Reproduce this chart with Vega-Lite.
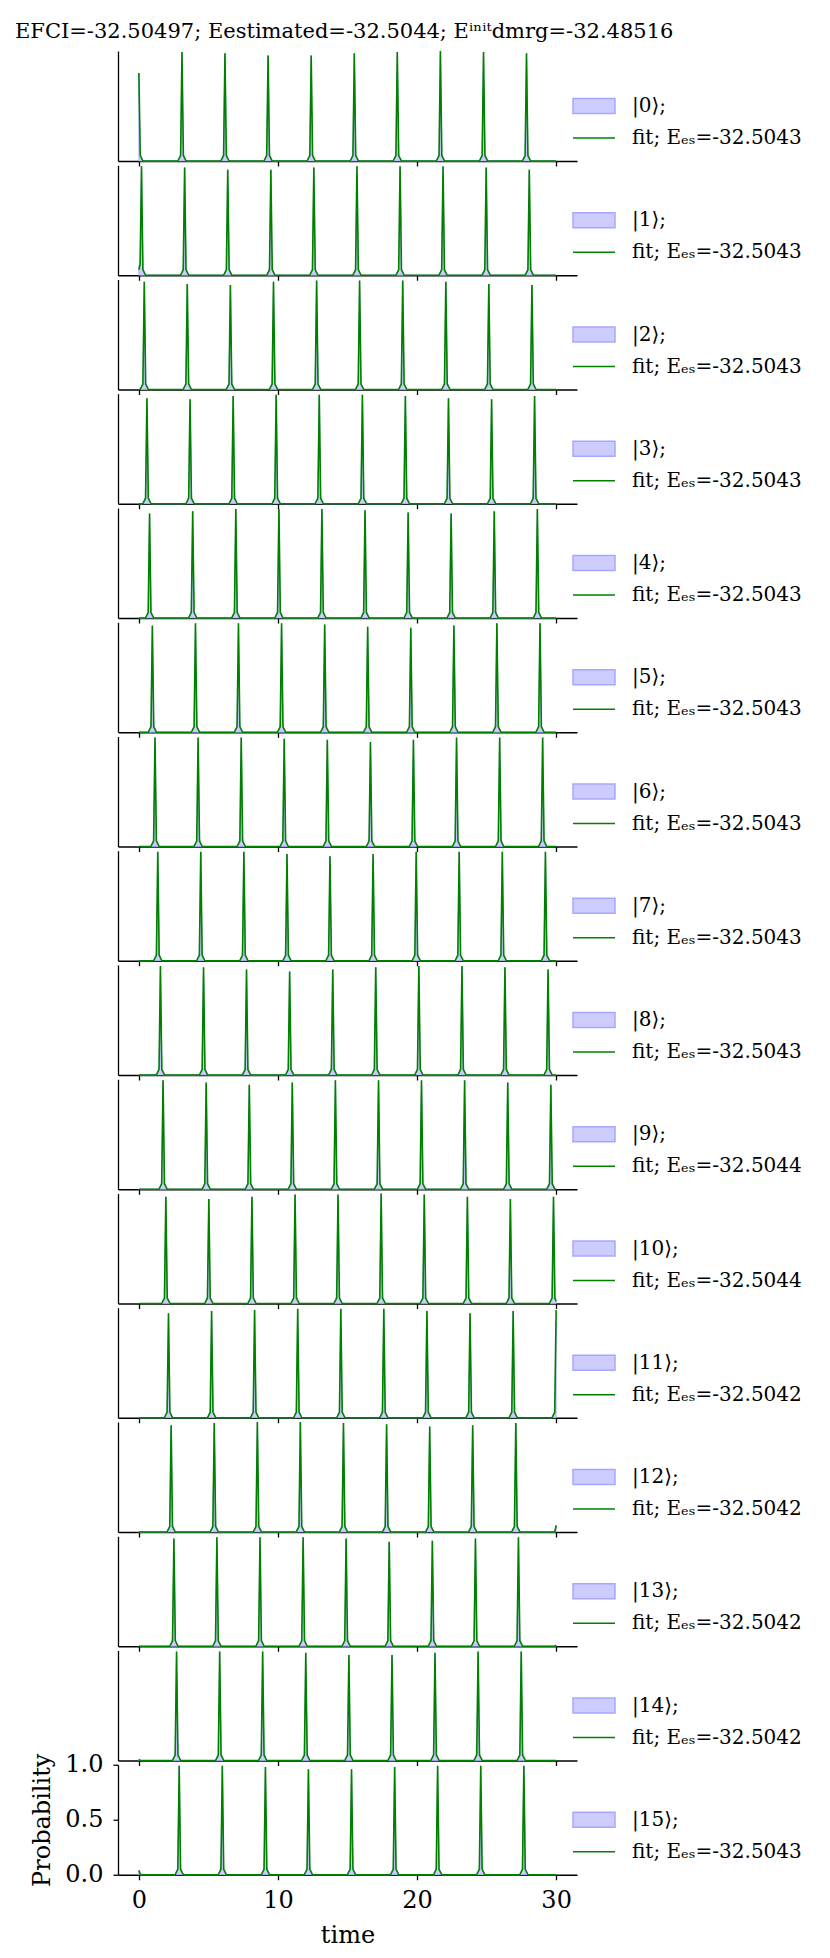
{"$schema":"https://vega.github.io/schema/vega-lite/v6.json","background":"white","padding":{"left":15,"top":20,"right":5,"bottom":5},
"title":{"text":"EFCI=-32.50497; Eestimated=-32.5044; Eⁱⁿⁱᵗdmrg=-32.48516","font":"DejaVu Serif","fontSize":21,"fontWeight":"normal","color":"#000000","anchor":"start","frame":"group","dx":-103,"offset":-11,"baseline":"alphabetic"},
"data":{"values":[
{"s":0,"t":0,"p":0.8,"f":0.8},{"s":0,"t":0.1,"p":0.06,"f":0.05},{"s":0,"t":0.3,"p":0,"f":0},
{"s":0,"t":2.8,"p":0,"f":0},{"s":0,"t":3.0,"p":0.06,"f":0.05},{"s":0,"t":3.1,"p":0.99,"f":0.99},{"s":0,"t":3.2,"p":0.06,"f":0.05},{"s":0,"t":3.4,"p":0,"f":0},
{"s":0,"t":5.89,"p":0,"f":0},{"s":0,"t":6.09,"p":0.06,"f":0.05},{"s":0,"t":6.19,"p":0.98,"f":0.98},{"s":0,"t":6.29,"p":0.06,"f":0.05},{"s":0,"t":6.49,"p":0,"f":0},
{"s":0,"t":8.99,"p":0,"f":0},{"s":0,"t":9.19,"p":0.06,"f":0.05},{"s":0,"t":9.29,"p":0.96,"f":0.96},{"s":0,"t":9.39,"p":0.06,"f":0.05},{"s":0,"t":9.59,"p":0,"f":0},
{"s":0,"t":12.09,"p":0,"f":0},{"s":0,"t":12.29,"p":0.06,"f":0.05},{"s":0,"t":12.39,"p":0.96,"f":0.96},{"s":0,"t":12.49,"p":0.06,"f":0.05},{"s":0,"t":12.69,"p":0,"f":0},
{"s":0,"t":15.19,"p":0,"f":0},{"s":0,"t":15.39,"p":0.06,"f":0.05},{"s":0,"t":15.49,"p":0.98,"f":0.98},{"s":0,"t":15.59,"p":0.06,"f":0.05},{"s":0,"t":15.79,"p":0,"f":0},
{"s":0,"t":18.28,"p":0,"f":0},{"s":0,"t":18.48,"p":0.06,"f":0.05},{"s":0,"t":18.58,"p":0.99,"f":0.99},{"s":0,"t":18.68,"p":0.06,"f":0.05},{"s":0,"t":18.88,"p":0,"f":0},
{"s":0,"t":21.38,"p":0,"f":0},{"s":0,"t":21.58,"p":0.06,"f":0.05},{"s":0,"t":21.68,"p":1.0,"f":1.0},{"s":0,"t":21.78,"p":0.06,"f":0.05},{"s":0,"t":21.98,"p":0,"f":0},
{"s":0,"t":24.48,"p":0,"f":0},{"s":0,"t":24.68,"p":0.06,"f":0.05},{"s":0,"t":24.78,"p":0.99,"f":0.99},{"s":0,"t":24.88,"p":0.06,"f":0.05},{"s":0,"t":25.08,"p":0,"f":0},
{"s":0,"t":27.57,"p":0,"f":0},{"s":0,"t":27.77,"p":0.06,"f":0.05},{"s":0,"t":27.87,"p":0.98,"f":0.98},{"s":0,"t":27.97,"p":0.06,"f":0.05},{"s":0,"t":28.17,"p":0,"f":0},
{"s":0,"t":30,"p":0,"f":0},
{"s":1,"t":0,"p":0.08,"f":0.05},{"s":1,"t":0.09,"p":0.12,"f":0.1},{"s":1,"t":0.19,"p":0.99,"f":0.99},{"s":1,"t":0.29,"p":0.06,"f":0.05},{"s":1,"t":0.49,"p":0,"f":0},
{"s":1,"t":2.99,"p":0,"f":0},{"s":1,"t":3.19,"p":0.06,"f":0.05},{"s":1,"t":3.29,"p":0.98,"f":0.98},{"s":1,"t":3.39,"p":0.06,"f":0.05},{"s":1,"t":3.59,"p":0,"f":0},
{"s":1,"t":6.09,"p":0,"f":0},{"s":1,"t":6.29,"p":0.06,"f":0.05},{"s":1,"t":6.39,"p":0.96,"f":0.96},{"s":1,"t":6.49,"p":0.06,"f":0.05},{"s":1,"t":6.69,"p":0,"f":0},
{"s":1,"t":9.19,"p":0,"f":0},{"s":1,"t":9.39,"p":0.06,"f":0.05},{"s":1,"t":9.49,"p":0.96,"f":0.96},{"s":1,"t":9.59,"p":0.06,"f":0.05},{"s":1,"t":9.79,"p":0,"f":0},
{"s":1,"t":12.28,"p":0,"f":0},{"s":1,"t":12.48,"p":0.06,"f":0.05},{"s":1,"t":12.58,"p":0.98,"f":0.98},{"s":1,"t":12.68,"p":0.06,"f":0.05},{"s":1,"t":12.88,"p":0,"f":0},
{"s":1,"t":15.38,"p":0,"f":0},{"s":1,"t":15.58,"p":0.06,"f":0.05},{"s":1,"t":15.68,"p":0.99,"f":0.99},{"s":1,"t":15.78,"p":0.06,"f":0.05},{"s":1,"t":15.98,"p":0,"f":0},
{"s":1,"t":18.48,"p":0,"f":0},{"s":1,"t":18.68,"p":0.06,"f":0.05},{"s":1,"t":18.78,"p":0.99,"f":0.99},{"s":1,"t":18.88,"p":0.06,"f":0.05},{"s":1,"t":19.08,"p":0,"f":0},
{"s":1,"t":21.57,"p":0,"f":0},{"s":1,"t":21.77,"p":0.06,"f":0.05},{"s":1,"t":21.87,"p":0.99,"f":0.99},{"s":1,"t":21.97,"p":0.06,"f":0.05},{"s":1,"t":22.17,"p":0,"f":0},
{"s":1,"t":24.67,"p":0,"f":0},{"s":1,"t":24.87,"p":0.06,"f":0.05},{"s":1,"t":24.97,"p":0.98,"f":0.98},{"s":1,"t":25.07,"p":0.06,"f":0.05},{"s":1,"t":25.27,"p":0,"f":0},
{"s":1,"t":27.77,"p":0,"f":0},{"s":1,"t":27.97,"p":0.06,"f":0.05},{"s":1,"t":28.07,"p":0.96,"f":0.96},{"s":1,"t":28.17,"p":0.06,"f":0.05},{"s":1,"t":28.37,"p":0,"f":0},
{"s":1,"t":30,"p":0,"f":0},
{"s":2,"t":0,"p":0,"f":0},
{"s":2,"t":0.09,"p":0,"f":0},{"s":2,"t":0.29,"p":0.06,"f":0.05},{"s":2,"t":0.39,"p":0.98,"f":0.98},{"s":2,"t":0.49,"p":0.06,"f":0.05},{"s":2,"t":0.69,"p":0,"f":0},
{"s":2,"t":3.18,"p":0,"f":0},{"s":2,"t":3.38,"p":0.06,"f":0.05},{"s":2,"t":3.48,"p":0.96,"f":0.96},{"s":2,"t":3.58,"p":0.06,"f":0.05},{"s":2,"t":3.78,"p":0,"f":0},
{"s":2,"t":6.28,"p":0,"f":0},{"s":2,"t":6.48,"p":0.06,"f":0.05},{"s":2,"t":6.58,"p":0.95,"f":0.95},{"s":2,"t":6.68,"p":0.06,"f":0.05},{"s":2,"t":6.88,"p":0,"f":0},
{"s":2,"t":9.38,"p":0,"f":0},{"s":2,"t":9.58,"p":0.06,"f":0.05},{"s":2,"t":9.68,"p":0.98,"f":0.98},{"s":2,"t":9.78,"p":0.06,"f":0.05},{"s":2,"t":9.98,"p":0,"f":0},
{"s":2,"t":12.48,"p":0,"f":0},{"s":2,"t":12.68,"p":0.06,"f":0.05},{"s":2,"t":12.78,"p":0.99,"f":0.99},{"s":2,"t":12.88,"p":0.06,"f":0.05},{"s":2,"t":13.08,"p":0,"f":0},
{"s":2,"t":15.57,"p":0,"f":0},{"s":2,"t":15.77,"p":0.06,"f":0.05},{"s":2,"t":15.87,"p":0.99,"f":0.99},{"s":2,"t":15.97,"p":0.06,"f":0.05},{"s":2,"t":16.17,"p":0,"f":0},
{"s":2,"t":18.67,"p":0,"f":0},{"s":2,"t":18.87,"p":0.06,"f":0.05},{"s":2,"t":18.97,"p":0.99,"f":0.99},{"s":2,"t":19.07,"p":0.06,"f":0.05},{"s":2,"t":19.27,"p":0,"f":0},
{"s":2,"t":21.77,"p":0,"f":0},{"s":2,"t":21.97,"p":0.06,"f":0.05},{"s":2,"t":22.07,"p":0.98,"f":0.98},{"s":2,"t":22.17,"p":0.06,"f":0.05},{"s":2,"t":22.37,"p":0,"f":0},
{"s":2,"t":24.86,"p":0,"f":0},{"s":2,"t":25.06,"p":0.06,"f":0.05},{"s":2,"t":25.16,"p":0.96,"f":0.96},{"s":2,"t":25.26,"p":0.06,"f":0.05},{"s":2,"t":25.46,"p":0,"f":0},
{"s":2,"t":27.96,"p":0,"f":0},{"s":2,"t":28.16,"p":0.06,"f":0.05},{"s":2,"t":28.26,"p":0.95,"f":0.95},{"s":2,"t":28.36,"p":0.06,"f":0.05},{"s":2,"t":28.56,"p":0,"f":0},
{"s":2,"t":30,"p":0,"f":0},
{"s":3,"t":0,"p":0,"f":0},
{"s":3,"t":0.28,"p":0,"f":0},{"s":3,"t":0.48,"p":0.06,"f":0.05},{"s":3,"t":0.58,"p":0.96,"f":0.96},{"s":3,"t":0.68,"p":0.06,"f":0.05},{"s":3,"t":0.88,"p":0,"f":0},
{"s":3,"t":3.38,"p":0,"f":0},{"s":3,"t":3.58,"p":0.06,"f":0.05},{"s":3,"t":3.68,"p":0.95,"f":0.95},{"s":3,"t":3.78,"p":0.06,"f":0.05},{"s":3,"t":3.98,"p":0,"f":0},
{"s":3,"t":6.48,"p":0,"f":0},{"s":3,"t":6.68,"p":0.06,"f":0.05},{"s":3,"t":6.78,"p":0.98,"f":0.98},{"s":3,"t":6.88,"p":0.06,"f":0.05},{"s":3,"t":7.08,"p":0,"f":0},
{"s":3,"t":9.57,"p":0,"f":0},{"s":3,"t":9.77,"p":0.06,"f":0.05},{"s":3,"t":9.87,"p":0.99,"f":0.99},{"s":3,"t":9.97,"p":0.06,"f":0.05},{"s":3,"t":10.17,"p":0,"f":0},
{"s":3,"t":12.67,"p":0,"f":0},{"s":3,"t":12.87,"p":0.06,"f":0.05},{"s":3,"t":12.97,"p":0.99,"f":0.99},{"s":3,"t":13.07,"p":0.06,"f":0.05},{"s":3,"t":13.27,"p":0,"f":0},
{"s":3,"t":15.77,"p":0,"f":0},{"s":3,"t":15.97,"p":0.06,"f":0.05},{"s":3,"t":16.07,"p":0.99,"f":0.99},{"s":3,"t":16.17,"p":0.06,"f":0.05},{"s":3,"t":16.37,"p":0,"f":0},
{"s":3,"t":18.86,"p":0,"f":0},{"s":3,"t":19.06,"p":0.06,"f":0.05},{"s":3,"t":19.16,"p":0.98,"f":0.98},{"s":3,"t":19.26,"p":0.06,"f":0.05},{"s":3,"t":19.46,"p":0,"f":0},
{"s":3,"t":21.96,"p":0,"f":0},{"s":3,"t":22.16,"p":0.06,"f":0.05},{"s":3,"t":22.26,"p":0.96,"f":0.96},{"s":3,"t":22.36,"p":0.06,"f":0.05},{"s":3,"t":22.56,"p":0,"f":0},
{"s":3,"t":25.06,"p":0,"f":0},{"s":3,"t":25.26,"p":0.06,"f":0.05},{"s":3,"t":25.36,"p":0.95,"f":0.95},{"s":3,"t":25.46,"p":0.06,"f":0.05},{"s":3,"t":25.66,"p":0,"f":0},
{"s":3,"t":28.15,"p":0,"f":0},{"s":3,"t":28.35,"p":0.06,"f":0.05},{"s":3,"t":28.45,"p":0.98,"f":0.98},{"s":3,"t":28.55,"p":0.06,"f":0.05},{"s":3,"t":28.75,"p":0,"f":0},
{"s":3,"t":30,"p":0,"f":0},
{"s":4,"t":0,"p":0,"f":0},
{"s":4,"t":0.47,"p":0,"f":0},{"s":4,"t":0.67,"p":0.06,"f":0.05},{"s":4,"t":0.77,"p":0.95,"f":0.95},{"s":4,"t":0.87,"p":0.06,"f":0.05},{"s":4,"t":1.07,"p":0,"f":0},
{"s":4,"t":3.57,"p":0,"f":0},{"s":4,"t":3.77,"p":0.06,"f":0.05},{"s":4,"t":3.87,"p":0.97,"f":0.97},{"s":4,"t":3.97,"p":0.06,"f":0.05},{"s":4,"t":4.17,"p":0,"f":0},
{"s":4,"t":6.67,"p":0,"f":0},{"s":4,"t":6.87,"p":0.06,"f":0.05},{"s":4,"t":6.97,"p":0.99,"f":0.99},{"s":4,"t":7.07,"p":0.06,"f":0.05},{"s":4,"t":7.27,"p":0,"f":0},
{"s":4,"t":9.77,"p":0,"f":0},{"s":4,"t":9.97,"p":0.06,"f":0.05},{"s":4,"t":10.07,"p":0.99,"f":0.99},{"s":4,"t":10.17,"p":0.06,"f":0.05},{"s":4,"t":10.37,"p":0,"f":0},
{"s":4,"t":12.86,"p":0,"f":0},{"s":4,"t":13.06,"p":0.06,"f":0.05},{"s":4,"t":13.16,"p":0.99,"f":0.99},{"s":4,"t":13.26,"p":0.06,"f":0.05},{"s":4,"t":13.46,"p":0,"f":0},
{"s":4,"t":15.96,"p":0,"f":0},{"s":4,"t":16.16,"p":0.06,"f":0.05},{"s":4,"t":16.26,"p":0.98,"f":0.98},{"s":4,"t":16.36,"p":0.06,"f":0.05},{"s":4,"t":16.56,"p":0,"f":0},
{"s":4,"t":19.06,"p":0,"f":0},{"s":4,"t":19.26,"p":0.06,"f":0.05},{"s":4,"t":19.36,"p":0.96,"f":0.96},{"s":4,"t":19.46,"p":0.06,"f":0.05},{"s":4,"t":19.66,"p":0,"f":0},
{"s":4,"t":22.15,"p":0,"f":0},{"s":4,"t":22.35,"p":0.06,"f":0.05},{"s":4,"t":22.45,"p":0.95,"f":0.95},{"s":4,"t":22.55,"p":0.06,"f":0.05},{"s":4,"t":22.75,"p":0,"f":0},
{"s":4,"t":25.25,"p":0,"f":0},{"s":4,"t":25.45,"p":0.06,"f":0.05},{"s":4,"t":25.55,"p":0.97,"f":0.97},{"s":4,"t":25.65,"p":0.06,"f":0.05},{"s":4,"t":25.85,"p":0,"f":0},
{"s":4,"t":28.35,"p":0,"f":0},{"s":4,"t":28.55,"p":0.06,"f":0.05},{"s":4,"t":28.65,"p":0.99,"f":0.99},{"s":4,"t":28.75,"p":0.06,"f":0.05},{"s":4,"t":28.95,"p":0,"f":0},
{"s":4,"t":30,"p":0,"f":0},
{"s":5,"t":0,"p":0,"f":0},
{"s":5,"t":0.67,"p":0,"f":0},{"s":5,"t":0.87,"p":0.06,"f":0.05},{"s":5,"t":0.97,"p":0.97,"f":0.97},{"s":5,"t":1.07,"p":0.06,"f":0.05},{"s":5,"t":1.27,"p":0,"f":0},
{"s":5,"t":3.77,"p":0,"f":0},{"s":5,"t":3.97,"p":0.06,"f":0.05},{"s":5,"t":4.07,"p":0.99,"f":0.99},{"s":5,"t":4.17,"p":0.06,"f":0.05},{"s":5,"t":4.37,"p":0,"f":0},
{"s":5,"t":6.86,"p":0,"f":0},{"s":5,"t":7.06,"p":0.06,"f":0.05},{"s":5,"t":7.16,"p":0.99,"f":0.99},{"s":5,"t":7.26,"p":0.06,"f":0.05},{"s":5,"t":7.46,"p":0,"f":0},
{"s":5,"t":9.96,"p":0,"f":0},{"s":5,"t":10.16,"p":0.06,"f":0.05},{"s":5,"t":10.26,"p":0.99,"f":0.99},{"s":5,"t":10.36,"p":0.06,"f":0.05},{"s":5,"t":10.56,"p":0,"f":0},
{"s":5,"t":13.06,"p":0,"f":0},{"s":5,"t":13.26,"p":0.06,"f":0.05},{"s":5,"t":13.36,"p":0.98,"f":0.98},{"s":5,"t":13.46,"p":0.06,"f":0.05},{"s":5,"t":13.66,"p":0,"f":0},
{"s":5,"t":16.15,"p":0,"f":0},{"s":5,"t":16.35,"p":0.06,"f":0.05},{"s":5,"t":16.45,"p":0.96,"f":0.96},{"s":5,"t":16.55,"p":0.06,"f":0.05},{"s":5,"t":16.75,"p":0,"f":0},
{"s":5,"t":19.25,"p":0,"f":0},{"s":5,"t":19.45,"p":0.06,"f":0.05},{"s":5,"t":19.55,"p":0.95,"f":0.95},{"s":5,"t":19.65,"p":0.06,"f":0.05},{"s":5,"t":19.85,"p":0,"f":0},
{"s":5,"t":22.35,"p":0,"f":0},{"s":5,"t":22.55,"p":0.06,"f":0.05},{"s":5,"t":22.65,"p":0.97,"f":0.97},{"s":5,"t":22.75,"p":0.06,"f":0.05},{"s":5,"t":22.95,"p":0,"f":0},
{"s":5,"t":25.44,"p":0,"f":0},{"s":5,"t":25.64,"p":0.06,"f":0.05},{"s":5,"t":25.74,"p":0.99,"f":0.99},{"s":5,"t":25.84,"p":0.06,"f":0.05},{"s":5,"t":26.04,"p":0,"f":0},
{"s":5,"t":28.54,"p":0,"f":0},{"s":5,"t":28.74,"p":0.06,"f":0.05},{"s":5,"t":28.84,"p":0.99,"f":0.99},{"s":5,"t":28.94,"p":0.06,"f":0.05},{"s":5,"t":29.14,"p":0,"f":0},
{"s":5,"t":30,"p":0,"f":0},
{"s":6,"t":0,"p":0,"f":0},
{"s":6,"t":0.86,"p":0,"f":0},{"s":6,"t":1.06,"p":0.06,"f":0.05},{"s":6,"t":1.16,"p":0.99,"f":0.99},{"s":6,"t":1.26,"p":0.06,"f":0.05},{"s":6,"t":1.46,"p":0,"f":0},
{"s":6,"t":3.96,"p":0,"f":0},{"s":6,"t":4.16,"p":0.06,"f":0.05},{"s":6,"t":4.26,"p":0.99,"f":0.99},{"s":6,"t":4.36,"p":0.06,"f":0.05},{"s":6,"t":4.56,"p":0,"f":0},
{"s":6,"t":7.06,"p":0,"f":0},{"s":6,"t":7.26,"p":0.06,"f":0.05},{"s":6,"t":7.36,"p":0.99,"f":0.99},{"s":6,"t":7.46,"p":0.06,"f":0.05},{"s":6,"t":7.66,"p":0,"f":0},
{"s":6,"t":10.15,"p":0,"f":0},{"s":6,"t":10.35,"p":0.06,"f":0.05},{"s":6,"t":10.45,"p":0.98,"f":0.98},{"s":6,"t":10.55,"p":0.06,"f":0.05},{"s":6,"t":10.75,"p":0,"f":0},
{"s":6,"t":13.25,"p":0,"f":0},{"s":6,"t":13.45,"p":0.06,"f":0.05},{"s":6,"t":13.55,"p":0.97,"f":0.97},{"s":6,"t":13.65,"p":0.06,"f":0.05},{"s":6,"t":13.85,"p":0,"f":0},
{"s":6,"t":16.35,"p":0,"f":0},{"s":6,"t":16.55,"p":0.06,"f":0.05},{"s":6,"t":16.65,"p":0.95,"f":0.95},{"s":6,"t":16.75,"p":0.06,"f":0.05},{"s":6,"t":16.95,"p":0,"f":0},
{"s":6,"t":19.44,"p":0,"f":0},{"s":6,"t":19.64,"p":0.06,"f":0.05},{"s":6,"t":19.74,"p":0.97,"f":0.97},{"s":6,"t":19.84,"p":0.06,"f":0.05},{"s":6,"t":20.04,"p":0,"f":0},
{"s":6,"t":22.54,"p":0,"f":0},{"s":6,"t":22.74,"p":0.06,"f":0.05},{"s":6,"t":22.84,"p":0.99,"f":0.99},{"s":6,"t":22.94,"p":0.06,"f":0.05},{"s":6,"t":23.14,"p":0,"f":0},
{"s":6,"t":25.64,"p":0,"f":0},{"s":6,"t":25.84,"p":0.06,"f":0.05},{"s":6,"t":25.94,"p":0.99,"f":0.99},{"s":6,"t":26.04,"p":0.06,"f":0.05},{"s":6,"t":26.24,"p":0,"f":0},
{"s":6,"t":28.73,"p":0,"f":0},{"s":6,"t":28.93,"p":0.06,"f":0.05},{"s":6,"t":29.03,"p":0.99,"f":0.99},{"s":6,"t":29.13,"p":0.06,"f":0.05},{"s":6,"t":29.33,"p":0,"f":0},
{"s":6,"t":30,"p":0,"f":0},
{"s":7,"t":0,"p":0,"f":0},
{"s":7,"t":1.06,"p":0,"f":0},{"s":7,"t":1.26,"p":0.06,"f":0.05},{"s":7,"t":1.36,"p":0.99,"f":0.99},{"s":7,"t":1.46,"p":0.06,"f":0.05},{"s":7,"t":1.66,"p":0,"f":0},
{"s":7,"t":4.15,"p":0,"f":0},{"s":7,"t":4.35,"p":0.06,"f":0.05},{"s":7,"t":4.45,"p":0.99,"f":0.99},{"s":7,"t":4.55,"p":0.06,"f":0.05},{"s":7,"t":4.75,"p":0,"f":0},
{"s":7,"t":7.25,"p":0,"f":0},{"s":7,"t":7.45,"p":0.06,"f":0.05},{"s":7,"t":7.55,"p":0.99,"f":0.99},{"s":7,"t":7.65,"p":0.06,"f":0.05},{"s":7,"t":7.85,"p":0,"f":0},
{"s":7,"t":10.35,"p":0,"f":0},{"s":7,"t":10.55,"p":0.06,"f":0.05},{"s":7,"t":10.65,"p":0.97,"f":0.97},{"s":7,"t":10.75,"p":0.06,"f":0.05},{"s":7,"t":10.95,"p":0,"f":0},
{"s":7,"t":13.44,"p":0,"f":0},{"s":7,"t":13.64,"p":0.06,"f":0.05},{"s":7,"t":13.74,"p":0.95,"f":0.95},{"s":7,"t":13.84,"p":0.06,"f":0.05},{"s":7,"t":14.04,"p":0,"f":0},
{"s":7,"t":16.54,"p":0,"f":0},{"s":7,"t":16.74,"p":0.06,"f":0.05},{"s":7,"t":16.84,"p":0.97,"f":0.97},{"s":7,"t":16.94,"p":0.06,"f":0.05},{"s":7,"t":17.14,"p":0,"f":0},
{"s":7,"t":19.64,"p":0,"f":0},{"s":7,"t":19.84,"p":0.06,"f":0.05},{"s":7,"t":19.94,"p":0.99,"f":0.99},{"s":7,"t":20.04,"p":0.06,"f":0.05},{"s":7,"t":20.24,"p":0,"f":0},
{"s":7,"t":22.73,"p":0,"f":0},{"s":7,"t":22.93,"p":0.06,"f":0.05},{"s":7,"t":23.03,"p":0.99,"f":0.99},{"s":7,"t":23.13,"p":0.06,"f":0.05},{"s":7,"t":23.33,"p":0,"f":0},
{"s":7,"t":25.83,"p":0,"f":0},{"s":7,"t":26.03,"p":0.06,"f":0.05},{"s":7,"t":26.13,"p":0.99,"f":0.99},{"s":7,"t":26.23,"p":0.06,"f":0.05},{"s":7,"t":26.43,"p":0,"f":0},
{"s":7,"t":28.93,"p":0,"f":0},{"s":7,"t":29.13,"p":0.06,"f":0.05},{"s":7,"t":29.23,"p":0.99,"f":0.99},{"s":7,"t":29.33,"p":0.06,"f":0.05},{"s":7,"t":29.53,"p":0,"f":0},
{"s":7,"t":30,"p":0,"f":0},
{"s":8,"t":0,"p":0,"f":0},
{"s":8,"t":1.25,"p":0,"f":0},{"s":8,"t":1.45,"p":0.06,"f":0.05},{"s":8,"t":1.55,"p":0.99,"f":0.99},{"s":8,"t":1.65,"p":0.06,"f":0.05},{"s":8,"t":1.85,"p":0,"f":0},
{"s":8,"t":4.35,"p":0,"f":0},{"s":8,"t":4.55,"p":0.06,"f":0.05},{"s":8,"t":4.65,"p":0.98,"f":0.98},{"s":8,"t":4.75,"p":0.06,"f":0.05},{"s":8,"t":4.95,"p":0,"f":0},
{"s":8,"t":7.44,"p":0,"f":0},{"s":8,"t":7.64,"p":0.06,"f":0.05},{"s":8,"t":7.74,"p":0.96,"f":0.96},{"s":8,"t":7.84,"p":0.06,"f":0.05},{"s":8,"t":8.04,"p":0,"f":0},
{"s":8,"t":10.54,"p":0,"f":0},{"s":8,"t":10.74,"p":0.06,"f":0.05},{"s":8,"t":10.84,"p":0.94,"f":0.94},{"s":8,"t":10.94,"p":0.06,"f":0.05},{"s":8,"t":11.14,"p":0,"f":0},
{"s":8,"t":13.64,"p":0,"f":0},{"s":8,"t":13.84,"p":0.06,"f":0.05},{"s":8,"t":13.94,"p":0.96,"f":0.96},{"s":8,"t":14.04,"p":0.06,"f":0.05},{"s":8,"t":14.24,"p":0,"f":0},
{"s":8,"t":16.73,"p":0,"f":0},{"s":8,"t":16.93,"p":0.06,"f":0.05},{"s":8,"t":17.03,"p":0.98,"f":0.98},{"s":8,"t":17.13,"p":0.06,"f":0.05},{"s":8,"t":17.33,"p":0,"f":0},
{"s":8,"t":19.83,"p":0,"f":0},{"s":8,"t":20.03,"p":0.06,"f":0.05},{"s":8,"t":20.13,"p":0.99,"f":0.99},{"s":8,"t":20.23,"p":0.06,"f":0.05},{"s":8,"t":20.43,"p":0,"f":0},
{"s":8,"t":22.93,"p":0,"f":0},{"s":8,"t":23.13,"p":0.06,"f":0.05},{"s":8,"t":23.23,"p":0.99,"f":0.99},{"s":8,"t":23.33,"p":0.06,"f":0.05},{"s":8,"t":23.53,"p":0,"f":0},
{"s":8,"t":26.02,"p":0,"f":0},{"s":8,"t":26.22,"p":0.06,"f":0.05},{"s":8,"t":26.32,"p":0.98,"f":0.98},{"s":8,"t":26.42,"p":0.06,"f":0.05},{"s":8,"t":26.62,"p":0,"f":0},
{"s":8,"t":29.12,"p":0,"f":0},{"s":8,"t":29.32,"p":0.06,"f":0.05},{"s":8,"t":29.42,"p":0.96,"f":0.96},{"s":8,"t":29.52,"p":0.06,"f":0.05},{"s":8,"t":29.72,"p":0,"f":0},
{"s":8,"t":30,"p":0,"f":0},
{"s":9,"t":0,"p":0,"f":0},
{"s":9,"t":1.44,"p":0,"f":0},{"s":9,"t":1.64,"p":0.06,"f":0.05},{"s":9,"t":1.74,"p":0.99,"f":0.99},{"s":9,"t":1.84,"p":0.06,"f":0.05},{"s":9,"t":2.04,"p":0,"f":0},
{"s":9,"t":4.54,"p":0,"f":0},{"s":9,"t":4.74,"p":0.06,"f":0.05},{"s":9,"t":4.84,"p":0.97,"f":0.97},{"s":9,"t":4.94,"p":0.06,"f":0.05},{"s":9,"t":5.14,"p":0,"f":0},
{"s":9,"t":7.64,"p":0,"f":0},{"s":9,"t":7.84,"p":0.06,"f":0.05},{"s":9,"t":7.94,"p":0.95,"f":0.95},{"s":9,"t":8.04,"p":0.06,"f":0.05},{"s":9,"t":8.24,"p":0,"f":0},
{"s":9,"t":10.73,"p":0,"f":0},{"s":9,"t":10.93,"p":0.06,"f":0.05},{"s":9,"t":11.03,"p":0.97,"f":0.97},{"s":9,"t":11.13,"p":0.06,"f":0.05},{"s":9,"t":11.33,"p":0,"f":0},
{"s":9,"t":13.83,"p":0,"f":0},{"s":9,"t":14.03,"p":0.06,"f":0.05},{"s":9,"t":14.13,"p":0.99,"f":0.99},{"s":9,"t":14.23,"p":0.06,"f":0.05},{"s":9,"t":14.43,"p":0,"f":0},
{"s":9,"t":16.93,"p":0,"f":0},{"s":9,"t":17.13,"p":0.06,"f":0.05},{"s":9,"t":17.23,"p":0.99,"f":0.99},{"s":9,"t":17.33,"p":0.06,"f":0.05},{"s":9,"t":17.53,"p":0,"f":0},
{"s":9,"t":20.02,"p":0,"f":0},{"s":9,"t":20.22,"p":0.06,"f":0.05},{"s":9,"t":20.32,"p":0.99,"f":0.99},{"s":9,"t":20.42,"p":0.06,"f":0.05},{"s":9,"t":20.62,"p":0,"f":0},
{"s":9,"t":23.12,"p":0,"f":0},{"s":9,"t":23.32,"p":0.06,"f":0.05},{"s":9,"t":23.42,"p":0.99,"f":0.99},{"s":9,"t":23.52,"p":0.06,"f":0.05},{"s":9,"t":23.72,"p":0,"f":0},
{"s":9,"t":26.22,"p":0,"f":0},{"s":9,"t":26.42,"p":0.06,"f":0.05},{"s":9,"t":26.52,"p":0.97,"f":0.97},{"s":9,"t":26.62,"p":0.06,"f":0.05},{"s":9,"t":26.82,"p":0,"f":0},
{"s":9,"t":29.32,"p":0,"f":0},{"s":9,"t":29.52,"p":0.06,"f":0.05},{"s":9,"t":29.62,"p":0.95,"f":0.95},{"s":9,"t":29.72,"p":0.06,"f":0.05},{"s":9,"t":29.92,"p":0,"f":0},
{"s":9,"t":30,"p":0,"f":0},
{"s":10,"t":0,"p":0,"f":0},
{"s":10,"t":1.64,"p":0,"f":0},{"s":10,"t":1.84,"p":0.06,"f":0.05},{"s":10,"t":1.94,"p":0.97,"f":0.97},{"s":10,"t":2.04,"p":0.06,"f":0.05},{"s":10,"t":2.24,"p":0,"f":0},
{"s":10,"t":4.73,"p":0,"f":0},{"s":10,"t":4.93,"p":0.06,"f":0.05},{"s":10,"t":5.03,"p":0.95,"f":0.95},{"s":10,"t":5.13,"p":0.06,"f":0.05},{"s":10,"t":5.33,"p":0,"f":0},
{"s":10,"t":7.83,"p":0,"f":0},{"s":10,"t":8.03,"p":0.06,"f":0.05},{"s":10,"t":8.13,"p":0.97,"f":0.97},{"s":10,"t":8.23,"p":0.06,"f":0.05},{"s":10,"t":8.43,"p":0,"f":0},
{"s":10,"t":10.93,"p":0,"f":0},{"s":10,"t":11.13,"p":0.06,"f":0.05},{"s":10,"t":11.23,"p":0.99,"f":0.99},{"s":10,"t":11.33,"p":0.06,"f":0.05},{"s":10,"t":11.53,"p":0,"f":0},
{"s":10,"t":14.02,"p":0,"f":0},{"s":10,"t":14.22,"p":0.06,"f":0.05},{"s":10,"t":14.32,"p":0.99,"f":0.99},{"s":10,"t":14.42,"p":0.06,"f":0.05},{"s":10,"t":14.62,"p":0,"f":0},
{"s":10,"t":17.12,"p":0,"f":0},{"s":10,"t":17.32,"p":0.06,"f":0.05},{"s":10,"t":17.42,"p":1.0,"f":1.0},{"s":10,"t":17.52,"p":0.06,"f":0.05},{"s":10,"t":17.72,"p":0,"f":0},
{"s":10,"t":20.22,"p":0,"f":0},{"s":10,"t":20.42,"p":0.06,"f":0.05},{"s":10,"t":20.52,"p":0.99,"f":0.99},{"s":10,"t":20.62,"p":0.06,"f":0.05},{"s":10,"t":20.82,"p":0,"f":0},
{"s":10,"t":23.32,"p":0,"f":0},{"s":10,"t":23.52,"p":0.06,"f":0.05},{"s":10,"t":23.62,"p":0.97,"f":0.97},{"s":10,"t":23.72,"p":0.06,"f":0.05},{"s":10,"t":23.92,"p":0,"f":0},
{"s":10,"t":26.41,"p":0,"f":0},{"s":10,"t":26.61,"p":0.06,"f":0.05},{"s":10,"t":26.71,"p":0.95,"f":0.95},{"s":10,"t":26.81,"p":0.06,"f":0.05},{"s":10,"t":27.01,"p":0,"f":0},
{"s":10,"t":29.51,"p":0,"f":0},{"s":10,"t":29.71,"p":0.06,"f":0.05},{"s":10,"t":29.81,"p":0.97,"f":0.97},{"s":10,"t":29.91,"p":0.06,"f":0.05},{"s":10,"t":30,"p":0.02,"f":0.02},
{"s":11,"t":0,"p":0,"f":0},
{"s":11,"t":1.83,"p":0,"f":0},{"s":11,"t":2.03,"p":0.06,"f":0.05},{"s":11,"t":2.13,"p":0.95,"f":0.95},{"s":11,"t":2.23,"p":0.06,"f":0.05},{"s":11,"t":2.43,"p":0,"f":0},
{"s":11,"t":4.93,"p":0,"f":0},{"s":11,"t":5.13,"p":0.06,"f":0.05},{"s":11,"t":5.23,"p":0.97,"f":0.97},{"s":11,"t":5.33,"p":0.06,"f":0.05},{"s":11,"t":5.53,"p":0,"f":0},
{"s":11,"t":8.02,"p":0,"f":0},{"s":11,"t":8.22,"p":0.06,"f":0.05},{"s":11,"t":8.32,"p":0.98,"f":0.98},{"s":11,"t":8.42,"p":0.06,"f":0.05},{"s":11,"t":8.62,"p":0,"f":0},
{"s":11,"t":11.12,"p":0,"f":0},{"s":11,"t":11.32,"p":0.06,"f":0.05},{"s":11,"t":11.42,"p":0.99,"f":0.99},{"s":11,"t":11.52,"p":0.06,"f":0.05},{"s":11,"t":11.72,"p":0,"f":0},
{"s":11,"t":14.22,"p":0,"f":0},{"s":11,"t":14.42,"p":0.06,"f":0.05},{"s":11,"t":14.52,"p":0.99,"f":0.99},{"s":11,"t":14.62,"p":0.06,"f":0.05},{"s":11,"t":14.82,"p":0,"f":0},
{"s":11,"t":17.31,"p":0,"f":0},{"s":11,"t":17.51,"p":0.06,"f":0.05},{"s":11,"t":17.61,"p":0.99,"f":0.99},{"s":11,"t":17.71,"p":0.06,"f":0.05},{"s":11,"t":17.91,"p":0,"f":0},
{"s":11,"t":20.41,"p":0,"f":0},{"s":11,"t":20.61,"p":0.06,"f":0.05},{"s":11,"t":20.71,"p":0.97,"f":0.97},{"s":11,"t":20.81,"p":0.06,"f":0.05},{"s":11,"t":21.01,"p":0,"f":0},
{"s":11,"t":23.51,"p":0,"f":0},{"s":11,"t":23.71,"p":0.06,"f":0.05},{"s":11,"t":23.81,"p":0.95,"f":0.95},{"s":11,"t":23.91,"p":0.06,"f":0.05},{"s":11,"t":24.11,"p":0,"f":0},
{"s":11,"t":26.61,"p":0,"f":0},{"s":11,"t":26.81,"p":0.06,"f":0.05},{"s":11,"t":26.91,"p":0.97,"f":0.97},{"s":11,"t":27.01,"p":0.06,"f":0.05},{"s":11,"t":27.21,"p":0,"f":0},
{"s":11,"t":29.7,"p":0,"f":0},{"s":11,"t":29.9,"p":0.06,"f":0.05},{"s":11,"t":30,"p":0.87,"f":0.98},
{"s":12,"t":0,"p":0,"f":0},
{"s":12,"t":2.02,"p":0,"f":0},{"s":12,"t":2.22,"p":0.06,"f":0.05},{"s":12,"t":2.32,"p":0.97,"f":0.97},{"s":12,"t":2.42,"p":0.06,"f":0.05},{"s":12,"t":2.62,"p":0,"f":0},
{"s":12,"t":5.12,"p":0,"f":0},{"s":12,"t":5.32,"p":0.06,"f":0.05},{"s":12,"t":5.42,"p":0.99,"f":0.99},{"s":12,"t":5.52,"p":0.06,"f":0.05},{"s":12,"t":5.72,"p":0,"f":0},
{"s":12,"t":8.22,"p":0,"f":0},{"s":12,"t":8.42,"p":0.06,"f":0.05},{"s":12,"t":8.52,"p":1.0,"f":1.0},{"s":12,"t":8.62,"p":0.06,"f":0.05},{"s":12,"t":8.82,"p":0,"f":0},
{"s":12,"t":11.31,"p":0,"f":0},{"s":12,"t":11.51,"p":0.06,"f":0.05},{"s":12,"t":11.61,"p":1.0,"f":1.0},{"s":12,"t":11.71,"p":0.06,"f":0.05},{"s":12,"t":11.91,"p":0,"f":0},
{"s":12,"t":14.41,"p":0,"f":0},{"s":12,"t":14.61,"p":0.06,"f":0.05},{"s":12,"t":14.71,"p":0.99,"f":0.99},{"s":12,"t":14.81,"p":0.06,"f":0.05},{"s":12,"t":15.01,"p":0,"f":0},
{"s":12,"t":17.51,"p":0,"f":0},{"s":12,"t":17.71,"p":0.06,"f":0.05},{"s":12,"t":17.81,"p":0.98,"f":0.98},{"s":12,"t":17.91,"p":0.06,"f":0.05},{"s":12,"t":18.11,"p":0,"f":0},
{"s":12,"t":20.61,"p":0,"f":0},{"s":12,"t":20.81,"p":0.06,"f":0.05},{"s":12,"t":20.91,"p":0.96,"f":0.96},{"s":12,"t":21.01,"p":0.06,"f":0.05},{"s":12,"t":21.21,"p":0,"f":0},
{"s":12,"t":23.7,"p":0,"f":0},{"s":12,"t":23.9,"p":0.06,"f":0.05},{"s":12,"t":24.0,"p":0.97,"f":0.97},{"s":12,"t":24.1,"p":0.06,"f":0.05},{"s":12,"t":24.3,"p":0,"f":0},
{"s":12,"t":26.8,"p":0,"f":0},{"s":12,"t":27.0,"p":0.06,"f":0.05},{"s":12,"t":27.1,"p":0.99,"f":0.99},{"s":12,"t":27.2,"p":0.06,"f":0.05},{"s":12,"t":27.4,"p":0,"f":0},
{"s":12,"t":29.9,"p":0,"f":0},{"s":12,"t":30,"p":0.06,"f":0.06},
{"s":13,"t":0,"p":0,"f":0},
{"s":13,"t":2.22,"p":0,"f":0},{"s":13,"t":2.42,"p":0.06,"f":0.05},{"s":13,"t":2.52,"p":0.98,"f":0.98},{"s":13,"t":2.62,"p":0.06,"f":0.05},{"s":13,"t":2.82,"p":0,"f":0},
{"s":13,"t":5.31,"p":0,"f":0},{"s":13,"t":5.51,"p":0.06,"f":0.05},{"s":13,"t":5.61,"p":0.99,"f":0.99},{"s":13,"t":5.71,"p":0.06,"f":0.05},{"s":13,"t":5.91,"p":0,"f":0},
{"s":13,"t":8.41,"p":0,"f":0},{"s":13,"t":8.61,"p":0.06,"f":0.05},{"s":13,"t":8.71,"p":0.99,"f":0.99},{"s":13,"t":8.81,"p":0.06,"f":0.05},{"s":13,"t":9.01,"p":0,"f":0},
{"s":13,"t":11.51,"p":0,"f":0},{"s":13,"t":11.71,"p":0.06,"f":0.05},{"s":13,"t":11.81,"p":0.99,"f":0.99},{"s":13,"t":11.91,"p":0.06,"f":0.05},{"s":13,"t":12.11,"p":0,"f":0},
{"s":13,"t":14.6,"p":0,"f":0},{"s":13,"t":14.8,"p":0.06,"f":0.05},{"s":13,"t":14.9,"p":0.98,"f":0.98},{"s":13,"t":15.0,"p":0.06,"f":0.05},{"s":13,"t":15.2,"p":0,"f":0},
{"s":13,"t":17.7,"p":0,"f":0},{"s":13,"t":17.9,"p":0.06,"f":0.05},{"s":13,"t":18.0,"p":0.95,"f":0.95},{"s":13,"t":18.1,"p":0.06,"f":0.05},{"s":13,"t":18.3,"p":0,"f":0},
{"s":13,"t":20.8,"p":0,"f":0},{"s":13,"t":21.0,"p":0.06,"f":0.05},{"s":13,"t":21.1,"p":0.96,"f":0.96},{"s":13,"t":21.2,"p":0.06,"f":0.05},{"s":13,"t":21.4,"p":0,"f":0},
{"s":13,"t":23.9,"p":0,"f":0},{"s":13,"t":24.1,"p":0.06,"f":0.05},{"s":13,"t":24.2,"p":0.98,"f":0.98},{"s":13,"t":24.3,"p":0.06,"f":0.05},{"s":13,"t":24.5,"p":0,"f":0},
{"s":13,"t":26.99,"p":0,"f":0},{"s":13,"t":27.19,"p":0.06,"f":0.05},{"s":13,"t":27.29,"p":0.99,"f":0.99},{"s":13,"t":27.39,"p":0.06,"f":0.05},{"s":13,"t":27.59,"p":0,"f":0},
{"s":13,"t":29.9,"p":0,"f":0},{"s":13,"t":30,"p":0.01,"f":0.01},
{"s":14,"t":0,"p":0.01,"f":0.01},{"s":14,"t":0.1,"p":0,"f":0},
{"s":14,"t":2.41,"p":0,"f":0},{"s":14,"t":2.61,"p":0.06,"f":0.05},{"s":14,"t":2.71,"p":0.99,"f":0.99},{"s":14,"t":2.81,"p":0.06,"f":0.05},{"s":14,"t":3.01,"p":0,"f":0},
{"s":14,"t":5.51,"p":0,"f":0},{"s":14,"t":5.71,"p":0.06,"f":0.05},{"s":14,"t":5.81,"p":0.99,"f":0.99},{"s":14,"t":5.91,"p":0.06,"f":0.05},{"s":14,"t":6.11,"p":0,"f":0},
{"s":14,"t":8.6,"p":0,"f":0},{"s":14,"t":8.8,"p":0.06,"f":0.05},{"s":14,"t":8.9,"p":0.99,"f":0.99},{"s":14,"t":9.0,"p":0.06,"f":0.05},{"s":14,"t":9.2,"p":0,"f":0},
{"s":14,"t":11.7,"p":0,"f":0},{"s":14,"t":11.9,"p":0.06,"f":0.05},{"s":14,"t":12.0,"p":0.98,"f":0.98},{"s":14,"t":12.1,"p":0.06,"f":0.05},{"s":14,"t":12.3,"p":0,"f":0},
{"s":14,"t":14.8,"p":0,"f":0},{"s":14,"t":15.0,"p":0.06,"f":0.05},{"s":14,"t":15.1,"p":0.96,"f":0.96},{"s":14,"t":15.2,"p":0.06,"f":0.05},{"s":14,"t":15.4,"p":0,"f":0},
{"s":14,"t":17.9,"p":0,"f":0},{"s":14,"t":18.1,"p":0.06,"f":0.05},{"s":14,"t":18.2,"p":0.96,"f":0.96},{"s":14,"t":18.3,"p":0.06,"f":0.05},{"s":14,"t":18.5,"p":0,"f":0},
{"s":14,"t":20.99,"p":0,"f":0},{"s":14,"t":21.19,"p":0.06,"f":0.05},{"s":14,"t":21.29,"p":0.98,"f":0.98},{"s":14,"t":21.39,"p":0.06,"f":0.05},{"s":14,"t":21.59,"p":0,"f":0},
{"s":14,"t":24.09,"p":0,"f":0},{"s":14,"t":24.29,"p":0.06,"f":0.05},{"s":14,"t":24.39,"p":0.99,"f":0.99},{"s":14,"t":24.49,"p":0.06,"f":0.05},{"s":14,"t":24.69,"p":0,"f":0},
{"s":14,"t":27.19,"p":0,"f":0},{"s":14,"t":27.39,"p":0.06,"f":0.05},{"s":14,"t":27.49,"p":0.99,"f":0.99},{"s":14,"t":27.59,"p":0.06,"f":0.05},{"s":14,"t":27.79,"p":0,"f":0},
{"s":14,"t":30,"p":0,"f":0},
{"s":15,"t":0,"p":0.04,"f":0.04},{"s":15,"t":0.12,"p":0,"f":0},
{"s":15,"t":2.6,"p":0,"f":0},{"s":15,"t":2.8,"p":0.06,"f":0.05},{"s":15,"t":2.9,"p":0.99,"f":0.99},{"s":15,"t":3.0,"p":0.06,"f":0.05},{"s":15,"t":3.2,"p":0,"f":0},
{"s":15,"t":5.7,"p":0,"f":0},{"s":15,"t":5.9,"p":0.06,"f":0.05},{"s":15,"t":6.0,"p":0.99,"f":0.99},{"s":15,"t":6.1,"p":0.06,"f":0.05},{"s":15,"t":6.3,"p":0,"f":0},
{"s":15,"t":8.8,"p":0,"f":0},{"s":15,"t":9.0,"p":0.06,"f":0.05},{"s":15,"t":9.1,"p":0.98,"f":0.98},{"s":15,"t":9.2,"p":0.06,"f":0.05},{"s":15,"t":9.4,"p":0,"f":0},
{"s":15,"t":11.89,"p":0,"f":0},{"s":15,"t":12.09,"p":0.06,"f":0.05},{"s":15,"t":12.19,"p":0.96,"f":0.96},{"s":15,"t":12.29,"p":0.06,"f":0.05},{"s":15,"t":12.49,"p":0,"f":0},
{"s":15,"t":14.99,"p":0,"f":0},{"s":15,"t":15.19,"p":0.06,"f":0.05},{"s":15,"t":15.29,"p":0.96,"f":0.96},{"s":15,"t":15.39,"p":0.06,"f":0.05},{"s":15,"t":15.59,"p":0,"f":0},
{"s":15,"t":18.09,"p":0,"f":0},{"s":15,"t":18.29,"p":0.06,"f":0.05},{"s":15,"t":18.39,"p":0.98,"f":0.98},{"s":15,"t":18.49,"p":0.06,"f":0.05},{"s":15,"t":18.69,"p":0,"f":0},
{"s":15,"t":21.18,"p":0,"f":0},{"s":15,"t":21.38,"p":0.06,"f":0.05},{"s":15,"t":21.48,"p":0.99,"f":0.99},{"s":15,"t":21.58,"p":0.06,"f":0.05},{"s":15,"t":21.78,"p":0,"f":0},
{"s":15,"t":24.28,"p":0,"f":0},{"s":15,"t":24.48,"p":0.06,"f":0.05},{"s":15,"t":24.58,"p":0.99,"f":0.99},{"s":15,"t":24.68,"p":0.06,"f":0.05},{"s":15,"t":24.88,"p":0,"f":0},
{"s":15,"t":27.38,"p":0,"f":0},{"s":15,"t":27.58,"p":0.06,"f":0.05},{"s":15,"t":27.68,"p":0.99,"f":0.99},{"s":15,"t":27.78,"p":0.06,"f":0.05},{"s":15,"t":27.98,"p":0,"f":0},
{"s":15,"t":30,"p":0,"f":0}
]},
"spacing":4.25,"bounds":"flush",
"resolve":{"scale":{"x":"independent","y":"independent","fill":"independent","stroke":"independent"},"legend":{"fill":"independent","stroke":"independent"}},
"vconcat":[
{"width":459,"height":110,"transform":[{"filter":"datum.s==0"}],"encoding":{"x":{"field":"t","type":"quantitative","scale":{"domain":[-1.5,31.5],"nice":false,"zero":false},"axis":{"values":[0,10,20,30],"labels":false,"title":null}}},"layer":[{"mark":{"type":"area","stroke":"#a6a6ff","strokeWidth":0.8},"encoding":{"y":{"field":"p","type":"quantitative","scale":{"domain":[0,1],"nice":false},"axis":{"ticks":false,"labels":false,"title":null}},"fill":{"datum":"|0⟩;","type":"nominal","scale":{"range":["#ccccff"]},"legend":{"title":null,"legendX":454,"legendY":33,"symbolType":"M-1,-0.36H1V0.36H-1Z","symbolStrokeColor":"#a6a6ff"}}}},{"mark":{"type":"line","strokeWidth":1.6},"encoding":{"y":{"field":"f","type":"quantitative","scale":{"domain":[0,1],"nice":false},"axis":{"ticks":false,"labels":false,"title":null}},"stroke":{"datum":"fit; Eₑₛ=-32.5043","type":"nominal","scale":{"range":["#008000"]},"legend":{"title":null,"legendX":454,"legendY":65,"symbolType":"stroke"}}}}]},
{"width":459,"height":110,"transform":[{"filter":"datum.s==1"}],"encoding":{"x":{"field":"t","type":"quantitative","scale":{"domain":[-1.5,31.5],"nice":false,"zero":false},"axis":{"values":[0,10,20,30],"labels":false,"title":null}}},"layer":[{"mark":{"type":"area","stroke":"#a6a6ff","strokeWidth":0.8},"encoding":{"y":{"field":"p","type":"quantitative","scale":{"domain":[0,1],"nice":false},"axis":{"ticks":false,"labels":false,"title":null}},"fill":{"datum":"|1⟩;","type":"nominal","scale":{"range":["#ccccff"]},"legend":{"title":null,"legendX":454,"legendY":33,"symbolType":"M-1,-0.36H1V0.36H-1Z","symbolStrokeColor":"#a6a6ff"}}}},{"mark":{"type":"line","strokeWidth":1.6},"encoding":{"y":{"field":"f","type":"quantitative","scale":{"domain":[0,1],"nice":false},"axis":{"ticks":false,"labels":false,"title":null}},"stroke":{"datum":"fit; Eₑₛ=-32.5043","type":"nominal","scale":{"range":["#008000"]},"legend":{"title":null,"legendX":454,"legendY":65,"symbolType":"stroke"}}}}]},
{"width":459,"height":110,"transform":[{"filter":"datum.s==2"}],"encoding":{"x":{"field":"t","type":"quantitative","scale":{"domain":[-1.5,31.5],"nice":false,"zero":false},"axis":{"values":[0,10,20,30],"labels":false,"title":null}}},"layer":[{"mark":{"type":"area","stroke":"#a6a6ff","strokeWidth":0.8},"encoding":{"y":{"field":"p","type":"quantitative","scale":{"domain":[0,1],"nice":false},"axis":{"ticks":false,"labels":false,"title":null}},"fill":{"datum":"|2⟩;","type":"nominal","scale":{"range":["#ccccff"]},"legend":{"title":null,"legendX":454,"legendY":33,"symbolType":"M-1,-0.36H1V0.36H-1Z","symbolStrokeColor":"#a6a6ff"}}}},{"mark":{"type":"line","strokeWidth":1.6},"encoding":{"y":{"field":"f","type":"quantitative","scale":{"domain":[0,1],"nice":false},"axis":{"ticks":false,"labels":false,"title":null}},"stroke":{"datum":"fit; Eₑₛ=-32.5043","type":"nominal","scale":{"range":["#008000"]},"legend":{"title":null,"legendX":454,"legendY":65,"symbolType":"stroke"}}}}]},
{"width":459,"height":110,"transform":[{"filter":"datum.s==3"}],"encoding":{"x":{"field":"t","type":"quantitative","scale":{"domain":[-1.5,31.5],"nice":false,"zero":false},"axis":{"values":[0,10,20,30],"labels":false,"title":null}}},"layer":[{"mark":{"type":"area","stroke":"#a6a6ff","strokeWidth":0.8},"encoding":{"y":{"field":"p","type":"quantitative","scale":{"domain":[0,1],"nice":false},"axis":{"ticks":false,"labels":false,"title":null}},"fill":{"datum":"|3⟩;","type":"nominal","scale":{"range":["#ccccff"]},"legend":{"title":null,"legendX":454,"legendY":33,"symbolType":"M-1,-0.36H1V0.36H-1Z","symbolStrokeColor":"#a6a6ff"}}}},{"mark":{"type":"line","strokeWidth":1.6},"encoding":{"y":{"field":"f","type":"quantitative","scale":{"domain":[0,1],"nice":false},"axis":{"ticks":false,"labels":false,"title":null}},"stroke":{"datum":"fit; Eₑₛ=-32.5043","type":"nominal","scale":{"range":["#008000"]},"legend":{"title":null,"legendX":454,"legendY":65,"symbolType":"stroke"}}}}]},
{"width":459,"height":110,"transform":[{"filter":"datum.s==4"}],"encoding":{"x":{"field":"t","type":"quantitative","scale":{"domain":[-1.5,31.5],"nice":false,"zero":false},"axis":{"values":[0,10,20,30],"labels":false,"title":null}}},"layer":[{"mark":{"type":"area","stroke":"#a6a6ff","strokeWidth":0.8},"encoding":{"y":{"field":"p","type":"quantitative","scale":{"domain":[0,1],"nice":false},"axis":{"ticks":false,"labels":false,"title":null}},"fill":{"datum":"|4⟩;","type":"nominal","scale":{"range":["#ccccff"]},"legend":{"title":null,"legendX":454,"legendY":33,"symbolType":"M-1,-0.36H1V0.36H-1Z","symbolStrokeColor":"#a6a6ff"}}}},{"mark":{"type":"line","strokeWidth":1.6},"encoding":{"y":{"field":"f","type":"quantitative","scale":{"domain":[0,1],"nice":false},"axis":{"ticks":false,"labels":false,"title":null}},"stroke":{"datum":"fit; Eₑₛ=-32.5043","type":"nominal","scale":{"range":["#008000"]},"legend":{"title":null,"legendX":454,"legendY":65,"symbolType":"stroke"}}}}]},
{"width":459,"height":110,"transform":[{"filter":"datum.s==5"}],"encoding":{"x":{"field":"t","type":"quantitative","scale":{"domain":[-1.5,31.5],"nice":false,"zero":false},"axis":{"values":[0,10,20,30],"labels":false,"title":null}}},"layer":[{"mark":{"type":"area","stroke":"#a6a6ff","strokeWidth":0.8},"encoding":{"y":{"field":"p","type":"quantitative","scale":{"domain":[0,1],"nice":false},"axis":{"ticks":false,"labels":false,"title":null}},"fill":{"datum":"|5⟩;","type":"nominal","scale":{"range":["#ccccff"]},"legend":{"title":null,"legendX":454,"legendY":33,"symbolType":"M-1,-0.36H1V0.36H-1Z","symbolStrokeColor":"#a6a6ff"}}}},{"mark":{"type":"line","strokeWidth":1.6},"encoding":{"y":{"field":"f","type":"quantitative","scale":{"domain":[0,1],"nice":false},"axis":{"ticks":false,"labels":false,"title":null}},"stroke":{"datum":"fit; Eₑₛ=-32.5043","type":"nominal","scale":{"range":["#008000"]},"legend":{"title":null,"legendX":454,"legendY":65,"symbolType":"stroke"}}}}]},
{"width":459,"height":110,"transform":[{"filter":"datum.s==6"}],"encoding":{"x":{"field":"t","type":"quantitative","scale":{"domain":[-1.5,31.5],"nice":false,"zero":false},"axis":{"values":[0,10,20,30],"labels":false,"title":null}}},"layer":[{"mark":{"type":"area","stroke":"#a6a6ff","strokeWidth":0.8},"encoding":{"y":{"field":"p","type":"quantitative","scale":{"domain":[0,1],"nice":false},"axis":{"ticks":false,"labels":false,"title":null}},"fill":{"datum":"|6⟩;","type":"nominal","scale":{"range":["#ccccff"]},"legend":{"title":null,"legendX":454,"legendY":33,"symbolType":"M-1,-0.36H1V0.36H-1Z","symbolStrokeColor":"#a6a6ff"}}}},{"mark":{"type":"line","strokeWidth":1.6},"encoding":{"y":{"field":"f","type":"quantitative","scale":{"domain":[0,1],"nice":false},"axis":{"ticks":false,"labels":false,"title":null}},"stroke":{"datum":"fit; Eₑₛ=-32.5043","type":"nominal","scale":{"range":["#008000"]},"legend":{"title":null,"legendX":454,"legendY":65,"symbolType":"stroke"}}}}]},
{"width":459,"height":110,"transform":[{"filter":"datum.s==7"}],"encoding":{"x":{"field":"t","type":"quantitative","scale":{"domain":[-1.5,31.5],"nice":false,"zero":false},"axis":{"values":[0,10,20,30],"labels":false,"title":null}}},"layer":[{"mark":{"type":"area","stroke":"#a6a6ff","strokeWidth":0.8},"encoding":{"y":{"field":"p","type":"quantitative","scale":{"domain":[0,1],"nice":false},"axis":{"ticks":false,"labels":false,"title":null}},"fill":{"datum":"|7⟩;","type":"nominal","scale":{"range":["#ccccff"]},"legend":{"title":null,"legendX":454,"legendY":33,"symbolType":"M-1,-0.36H1V0.36H-1Z","symbolStrokeColor":"#a6a6ff"}}}},{"mark":{"type":"line","strokeWidth":1.6},"encoding":{"y":{"field":"f","type":"quantitative","scale":{"domain":[0,1],"nice":false},"axis":{"ticks":false,"labels":false,"title":null}},"stroke":{"datum":"fit; Eₑₛ=-32.5043","type":"nominal","scale":{"range":["#008000"]},"legend":{"title":null,"legendX":454,"legendY":65,"symbolType":"stroke"}}}}]},
{"width":459,"height":110,"transform":[{"filter":"datum.s==8"}],"encoding":{"x":{"field":"t","type":"quantitative","scale":{"domain":[-1.5,31.5],"nice":false,"zero":false},"axis":{"values":[0,10,20,30],"labels":false,"title":null}}},"layer":[{"mark":{"type":"area","stroke":"#a6a6ff","strokeWidth":0.8},"encoding":{"y":{"field":"p","type":"quantitative","scale":{"domain":[0,1],"nice":false},"axis":{"ticks":false,"labels":false,"title":null}},"fill":{"datum":"|8⟩;","type":"nominal","scale":{"range":["#ccccff"]},"legend":{"title":null,"legendX":454,"legendY":33,"symbolType":"M-1,-0.36H1V0.36H-1Z","symbolStrokeColor":"#a6a6ff"}}}},{"mark":{"type":"line","strokeWidth":1.6},"encoding":{"y":{"field":"f","type":"quantitative","scale":{"domain":[0,1],"nice":false},"axis":{"ticks":false,"labels":false,"title":null}},"stroke":{"datum":"fit; Eₑₛ=-32.5043","type":"nominal","scale":{"range":["#008000"]},"legend":{"title":null,"legendX":454,"legendY":65,"symbolType":"stroke"}}}}]},
{"width":459,"height":110,"transform":[{"filter":"datum.s==9"}],"encoding":{"x":{"field":"t","type":"quantitative","scale":{"domain":[-1.5,31.5],"nice":false,"zero":false},"axis":{"values":[0,10,20,30],"labels":false,"title":null}}},"layer":[{"mark":{"type":"area","stroke":"#a6a6ff","strokeWidth":0.8},"encoding":{"y":{"field":"p","type":"quantitative","scale":{"domain":[0,1],"nice":false},"axis":{"ticks":false,"labels":false,"title":null}},"fill":{"datum":"|9⟩;","type":"nominal","scale":{"range":["#ccccff"]},"legend":{"title":null,"legendX":454,"legendY":33,"symbolType":"M-1,-0.36H1V0.36H-1Z","symbolStrokeColor":"#a6a6ff"}}}},{"mark":{"type":"line","strokeWidth":1.6},"encoding":{"y":{"field":"f","type":"quantitative","scale":{"domain":[0,1],"nice":false},"axis":{"ticks":false,"labels":false,"title":null}},"stroke":{"datum":"fit; Eₑₛ=-32.5044","type":"nominal","scale":{"range":["#008000"]},"legend":{"title":null,"legendX":454,"legendY":65,"symbolType":"stroke"}}}}]},
{"width":459,"height":110,"transform":[{"filter":"datum.s==10"}],"encoding":{"x":{"field":"t","type":"quantitative","scale":{"domain":[-1.5,31.5],"nice":false,"zero":false},"axis":{"values":[0,10,20,30],"labels":false,"title":null}}},"layer":[{"mark":{"type":"area","stroke":"#a6a6ff","strokeWidth":0.8},"encoding":{"y":{"field":"p","type":"quantitative","scale":{"domain":[0,1],"nice":false},"axis":{"ticks":false,"labels":false,"title":null}},"fill":{"datum":"|10⟩;","type":"nominal","scale":{"range":["#ccccff"]},"legend":{"title":null,"legendX":454,"legendY":33,"symbolType":"M-1,-0.36H1V0.36H-1Z","symbolStrokeColor":"#a6a6ff"}}}},{"mark":{"type":"line","strokeWidth":1.6},"encoding":{"y":{"field":"f","type":"quantitative","scale":{"domain":[0,1],"nice":false},"axis":{"ticks":false,"labels":false,"title":null}},"stroke":{"datum":"fit; Eₑₛ=-32.5044","type":"nominal","scale":{"range":["#008000"]},"legend":{"title":null,"legendX":454,"legendY":65,"symbolType":"stroke"}}}}]},
{"width":459,"height":110,"transform":[{"filter":"datum.s==11"}],"encoding":{"x":{"field":"t","type":"quantitative","scale":{"domain":[-1.5,31.5],"nice":false,"zero":false},"axis":{"values":[0,10,20,30],"labels":false,"title":null}}},"layer":[{"mark":{"type":"area","stroke":"#a6a6ff","strokeWidth":0.8},"encoding":{"y":{"field":"p","type":"quantitative","scale":{"domain":[0,1],"nice":false},"axis":{"ticks":false,"labels":false,"title":null}},"fill":{"datum":"|11⟩;","type":"nominal","scale":{"range":["#ccccff"]},"legend":{"title":null,"legendX":454,"legendY":33,"symbolType":"M-1,-0.36H1V0.36H-1Z","symbolStrokeColor":"#a6a6ff"}}}},{"mark":{"type":"line","strokeWidth":1.6},"encoding":{"y":{"field":"f","type":"quantitative","scale":{"domain":[0,1],"nice":false},"axis":{"ticks":false,"labels":false,"title":null}},"stroke":{"datum":"fit; Eₑₛ=-32.5042","type":"nominal","scale":{"range":["#008000"]},"legend":{"title":null,"legendX":454,"legendY":65,"symbolType":"stroke"}}}}]},
{"width":459,"height":110,"transform":[{"filter":"datum.s==12"}],"encoding":{"x":{"field":"t","type":"quantitative","scale":{"domain":[-1.5,31.5],"nice":false,"zero":false},"axis":{"values":[0,10,20,30],"labels":false,"title":null}}},"layer":[{"mark":{"type":"area","stroke":"#a6a6ff","strokeWidth":0.8},"encoding":{"y":{"field":"p","type":"quantitative","scale":{"domain":[0,1],"nice":false},"axis":{"ticks":false,"labels":false,"title":null}},"fill":{"datum":"|12⟩;","type":"nominal","scale":{"range":["#ccccff"]},"legend":{"title":null,"legendX":454,"legendY":33,"symbolType":"M-1,-0.36H1V0.36H-1Z","symbolStrokeColor":"#a6a6ff"}}}},{"mark":{"type":"line","strokeWidth":1.6},"encoding":{"y":{"field":"f","type":"quantitative","scale":{"domain":[0,1],"nice":false},"axis":{"ticks":false,"labels":false,"title":null}},"stroke":{"datum":"fit; Eₑₛ=-32.5042","type":"nominal","scale":{"range":["#008000"]},"legend":{"title":null,"legendX":454,"legendY":65,"symbolType":"stroke"}}}}]},
{"width":459,"height":110,"transform":[{"filter":"datum.s==13"}],"encoding":{"x":{"field":"t","type":"quantitative","scale":{"domain":[-1.5,31.5],"nice":false,"zero":false},"axis":{"values":[0,10,20,30],"labels":false,"title":null}}},"layer":[{"mark":{"type":"area","stroke":"#a6a6ff","strokeWidth":0.8},"encoding":{"y":{"field":"p","type":"quantitative","scale":{"domain":[0,1],"nice":false},"axis":{"ticks":false,"labels":false,"title":null}},"fill":{"datum":"|13⟩;","type":"nominal","scale":{"range":["#ccccff"]},"legend":{"title":null,"legendX":454,"legendY":33,"symbolType":"M-1,-0.36H1V0.36H-1Z","symbolStrokeColor":"#a6a6ff"}}}},{"mark":{"type":"line","strokeWidth":1.6},"encoding":{"y":{"field":"f","type":"quantitative","scale":{"domain":[0,1],"nice":false},"axis":{"ticks":false,"labels":false,"title":null}},"stroke":{"datum":"fit; Eₑₛ=-32.5042","type":"nominal","scale":{"range":["#008000"]},"legend":{"title":null,"legendX":454,"legendY":65,"symbolType":"stroke"}}}}]},
{"width":459,"height":110,"transform":[{"filter":"datum.s==14"}],"encoding":{"x":{"field":"t","type":"quantitative","scale":{"domain":[-1.5,31.5],"nice":false,"zero":false},"axis":{"values":[0,10,20,30],"labels":false,"title":null}}},"layer":[{"mark":{"type":"area","stroke":"#a6a6ff","strokeWidth":0.8},"encoding":{"y":{"field":"p","type":"quantitative","scale":{"domain":[0,1],"nice":false},"axis":{"ticks":false,"labels":false,"title":null}},"fill":{"datum":"|14⟩;","type":"nominal","scale":{"range":["#ccccff"]},"legend":{"title":null,"legendX":454,"legendY":33,"symbolType":"M-1,-0.36H1V0.36H-1Z","symbolStrokeColor":"#a6a6ff"}}}},{"mark":{"type":"line","strokeWidth":1.6},"encoding":{"y":{"field":"f","type":"quantitative","scale":{"domain":[0,1],"nice":false},"axis":{"ticks":false,"labels":false,"title":null}},"stroke":{"datum":"fit; Eₑₛ=-32.5042","type":"nominal","scale":{"range":["#008000"]},"legend":{"title":null,"legendX":454,"legendY":65,"symbolType":"stroke"}}}}]},
{"width":459,"height":110,"transform":[{"filter":"datum.s==15"}],"encoding":{"x":{"field":"t","type":"quantitative","scale":{"domain":[-1.5,31.5],"nice":false,"zero":false},"axis":{"values":[0,10,20,30],"title":"time","labelPadding":9,"titlePadding":11}}},"layer":[{"mark":{"type":"area","stroke":"#a6a6ff","strokeWidth":0.8},"encoding":{"y":{"field":"p","type":"quantitative","scale":{"domain":[0,1],"nice":false},"axis":{"values":[0,0.5,1],"format":".1f","title":"Probability","labelPadding":10,"titlePadding":10}},"fill":{"datum":"|15⟩;","type":"nominal","scale":{"range":["#ccccff"]},"legend":{"title":null,"legendX":454,"legendY":33,"symbolType":"M-1,-0.36H1V0.36H-1Z","symbolStrokeColor":"#a6a6ff"}}}},{"mark":{"type":"line","strokeWidth":1.6},"encoding":{"y":{"field":"f","type":"quantitative","scale":{"domain":[0,1],"nice":false},"axis":{"values":[0,0.5,1],"format":".1f","title":"Probability","labelPadding":10,"titlePadding":10}},"stroke":{"datum":"fit; Eₑₛ=-32.5043","type":"nominal","scale":{"range":["#008000"]},"legend":{"title":null,"legendX":454,"legendY":65,"symbolType":"stroke"}}}}]}
],
"config":{"view":{"stroke":null},
"axis":{"grid":false,"domainColor":"#000000","domainWidth":1.3,"tickColor":"#000000","tickWidth":1.3,"tickSize":5,"labelFont":"DejaVu Serif","labelFontSize":24,"labelColor":"#000000","titleFont":"DejaVu Serif","titleFontSize":24,"titleFontWeight":"normal","titleColor":"#000000","labelFlush":false,"zindex":1},
"legend":{"orient":"none","labelFont":"DejaVu Serif","labelFontSize":20,"labelColor":"#000000","labelOffset":16,"labelLimit":400,"padding":0,"symbolSize":1764,"symbolStrokeWidth":1.5}}
}
